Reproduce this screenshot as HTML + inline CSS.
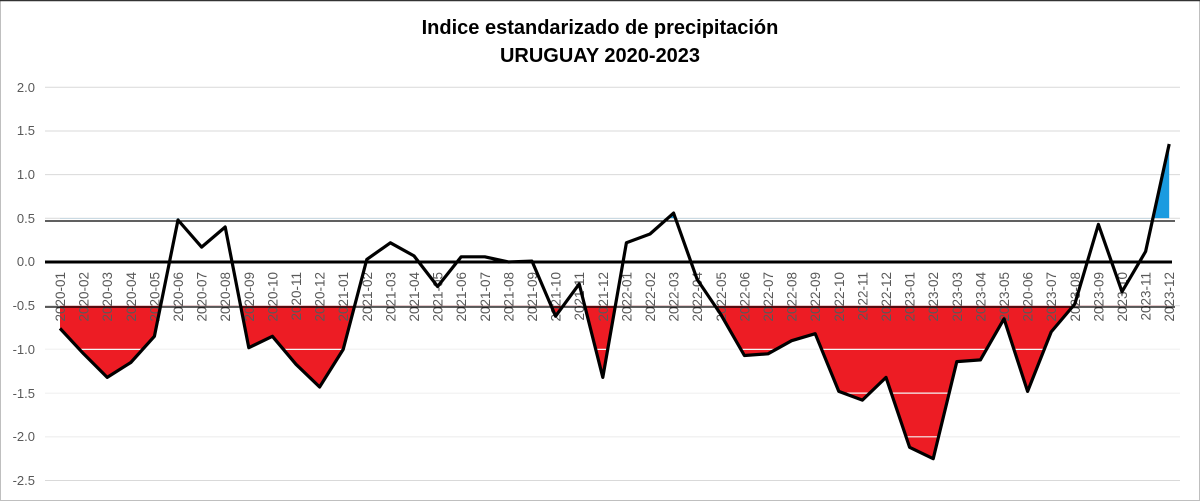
<!DOCTYPE html>
<html><head><meta charset="utf-8"><style>
html,body{margin:0;padding:0;background:#fff;}
svg{display:block;font-family:"Liberation Sans",sans-serif;}
</style></head><body>
<svg width="1200" height="501" viewBox="0 0 1200 501" xmlns="http://www.w3.org/2000/svg">
<rect x="0.5" y="0.5" width="1199" height="500" fill="#fff" stroke="#bfbfbf"/>
<line x1="0" y1="0.5" x2="1200" y2="0.5" stroke="#333" stroke-width="1.5"/>
<text x="600" y="34" text-anchor="middle" font-size="20" font-weight="bold" fill="#000">Indice estandarizado de precipitación</text>
<text x="600" y="62" text-anchor="middle" font-size="20" font-weight="bold" fill="#000">URUGUAY  2020-2023</text>
<g stroke="#d9d9d9" stroke-width="1">
<line x1="45" y1="87.2" x2="1180" y2="87.2"/>
<line x1="45" y1="131" x2="1180" y2="131"/>
<line x1="45" y1="174.6" x2="1180" y2="174.6"/>
<line x1="45" y1="218.3" x2="1180" y2="218.3"/>
<line x1="45" y1="305.7" x2="1180" y2="305.7"/>
<line x1="45" y1="349.4" x2="1180" y2="349.4"/>
<line x1="45" y1="393.1" x2="1180" y2="393.1"/>
<line x1="45" y1="436.8" x2="1180" y2="436.8"/>
<line x1="45" y1="480.5" x2="1180" y2="480.5"/>
</g>
<g font-size="13" fill="#595959" text-anchor="end">
<text x="35" y="92">2.0</text><text x="35" y="135">1.5</text><text x="35" y="179">1.0</text><text x="35" y="223">0.5</text><text x="35" y="266">0.0</text><text x="35" y="310">-0.5</text><text x="35" y="354">-1.0</text><text x="35" y="398">-1.5</text><text x="35" y="441">-2.0</text><text x="35" y="485">-2.5</text>
</g>
<defs>
<clipPath id="below"><rect x="0" y="305.7" width="1200" height="200"/></clipPath>
<clipPath id="above"><rect x="0" y="0" width="1200" height="218.3"/></clipPath>
</defs>
<polygon clip-path="url(#below)" fill="#ed1c24" points="60,328.4 83.6,353.8 107.2,377.4 130.8,362.5 154.4,336.3 178,220 201.6,247.1 225.2,227 248.8,347.7 272.4,336.3 296,364.3 319.6,387 343.2,349.4 366.8,259.4 390.4,242.8 414,255.9 437.6,286.5 461.2,256.8 484.8,256.8 508.4,262 532,261.1 555.6,316.2 579.2,283.9 602.8,377.4 626.4,242.8 650,234 673.6,213.1 697.2,279.5 720.8,314.4 744.4,355.5 768,353.8 791.6,340.7 815.2,333.7 838.8,391.4 862.4,400.1 886,377.4 909.6,447.3 933.2,458.7 956.8,361.6 980.4,359.9 1004,318.8 1027.6,391.4 1051.2,331.9 1074.8,304 1098.4,224.4 1122,291.7 1145.6,251.5 1169.2,144 1169.2,305.7 60,305.7"/>
<polygon clip-path="url(#above)" fill="#1a9be0" points="60,328.4 83.6,353.8 107.2,377.4 130.8,362.5 154.4,336.3 178,220 201.6,247.1 225.2,227 248.8,347.7 272.4,336.3 296,364.3 319.6,387 343.2,349.4 366.8,259.4 390.4,242.8 414,255.9 437.6,286.5 461.2,256.8 484.8,256.8 508.4,262 532,261.1 555.6,316.2 579.2,283.9 602.8,377.4 626.4,242.8 650,234 673.6,213.1 697.2,279.5 720.8,314.4 744.4,355.5 768,353.8 791.6,340.7 815.2,333.7 838.8,391.4 862.4,400.1 886,377.4 909.6,447.3 933.2,458.7 956.8,361.6 980.4,359.9 1004,318.8 1027.6,391.4 1051.2,331.9 1074.8,304 1098.4,224.4 1122,291.7 1145.6,251.5 1169.2,144 1169.2,218.3 60,218.3"/>
<g stroke="#f4f4f4" stroke-width="1.2">
<line x1="45" y1="349.4" x2="1180" y2="349.4"/>
<line x1="45" y1="393.1" x2="1180" y2="393.1"/>
<line x1="45" y1="436.8" x2="1180" y2="436.8"/>
</g>
<g font-size="13.5" fill="#595959" text-anchor="end">
<text transform="translate(65,272) rotate(-90)">2020-01</text><text transform="translate(88.6,272) rotate(-90)">2020-02</text><text transform="translate(112.2,272) rotate(-90)">2020-03</text><text transform="translate(135.8,272) rotate(-90)">2020-04</text><text transform="translate(159.4,272) rotate(-90)">2020-05</text><text transform="translate(183,272) rotate(-90)">2020-06</text><text transform="translate(206.6,272) rotate(-90)">2020-07</text><text transform="translate(230.2,272) rotate(-90)">2020-08</text><text transform="translate(253.8,272) rotate(-90)">2020-09</text><text transform="translate(277.4,272) rotate(-90)">2020-10</text><text transform="translate(301,272) rotate(-90)">2020-11</text><text transform="translate(324.6,272) rotate(-90)">2020-12</text>
<text transform="translate(348.2,272) rotate(-90)">2021-01</text><text transform="translate(371.8,272) rotate(-90)">2021-02</text><text transform="translate(395.4,272) rotate(-90)">2021-03</text><text transform="translate(419,272) rotate(-90)">2021-04</text><text transform="translate(442.6,272) rotate(-90)">2021-05</text><text transform="translate(466.2,272) rotate(-90)">2021-06</text><text transform="translate(489.8,272) rotate(-90)">2021-07</text><text transform="translate(513.4,272) rotate(-90)">2021-08</text><text transform="translate(537,272) rotate(-90)">2021-09</text><text transform="translate(560.6,272) rotate(-90)">2021-10</text><text transform="translate(584.2,272) rotate(-90)">2021-11</text><text transform="translate(607.8,272) rotate(-90)">2021-12</text>
<text transform="translate(631.4,272) rotate(-90)">2022-01</text><text transform="translate(655,272) rotate(-90)">2022-02</text><text transform="translate(678.6,272) rotate(-90)">2022-03</text><text transform="translate(702.2,272) rotate(-90)">2022-04</text><text transform="translate(725.8,272) rotate(-90)">2022-05</text><text transform="translate(749.4,272) rotate(-90)">2022-06</text><text transform="translate(773,272) rotate(-90)">2022-07</text><text transform="translate(796.6,272) rotate(-90)">2022-08</text><text transform="translate(820.2,272) rotate(-90)">2022-09</text><text transform="translate(843.8,272) rotate(-90)">2022-10</text><text transform="translate(867.4,272) rotate(-90)">2022-11</text><text transform="translate(891,272) rotate(-90)">2022-12</text>
<text transform="translate(914.6,272) rotate(-90)">2023-01</text><text transform="translate(938.2,272) rotate(-90)">2023-02</text><text transform="translate(961.8,272) rotate(-90)">2023-03</text><text transform="translate(985.4,272) rotate(-90)">2023-04</text><text transform="translate(1009,272) rotate(-90)">2023-05</text><text transform="translate(1032.6,272) rotate(-90)">2020-06</text><text transform="translate(1056.2,272) rotate(-90)">2023-07</text><text transform="translate(1079.8,272) rotate(-90)">2023-08</text><text transform="translate(1103.4,272) rotate(-90)">2023-09</text><text transform="translate(1127,272) rotate(-90)">2023-10</text><text transform="translate(1150.6,272) rotate(-90)">2023-11</text><text transform="translate(1174.2,272) rotate(-90)">2023-12</text>
</g>
<line x1="45" y1="221" x2="1175" y2="221" stroke="#000" stroke-width="1.2"/>
<line x1="45" y1="307" x2="1175" y2="307" stroke="#000" stroke-width="1.2"/>
<line x1="45" y1="262" x2="1172" y2="262" stroke="#000" stroke-width="3"/>
<polyline fill="none" stroke="#000" stroke-width="3.2" stroke-linejoin="round" points="60,328.4 83.6,353.8 107.2,377.4 130.8,362.5 154.4,336.3 178,220 201.6,247.1 225.2,227 248.8,347.7 272.4,336.3 296,364.3 319.6,387 343.2,349.4 366.8,259.4 390.4,242.8 414,255.9 437.6,286.5 461.2,256.8 484.8,256.8 508.4,262 532,261.1 555.6,316.2 579.2,283.9 602.8,377.4 626.4,242.8 650,234 673.6,213.1 697.2,279.5 720.8,314.4 744.4,355.5 768,353.8 791.6,340.7 815.2,333.7 838.8,391.4 862.4,400.1 886,377.4 909.6,447.3 933.2,458.7 956.8,361.6 980.4,359.9 1004,318.8 1027.6,391.4 1051.2,331.9 1074.8,304 1098.4,224.4 1122,291.7 1145.6,251.5 1169.2,144"/>
</svg>
</body></html>
